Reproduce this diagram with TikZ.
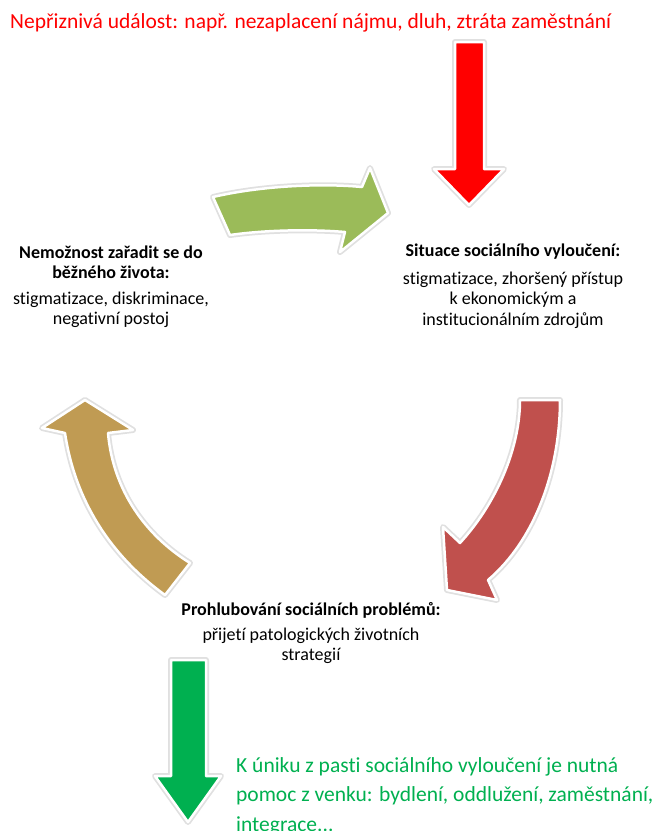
\documentclass[tikz,border=0pt]{standalone}
\usepackage{fontspec}
\setmainfont{Carlito}[Ligatures=NoCommon]
\usepackage{xcolor}
\definecolor{ColRed}{RGB}{255,0,0}
\definecolor{ColOlive}{RGB}{155,187,89}
\definecolor{ColBrick}{RGB}{192,80,77}
\definecolor{ColTan}{RGB}{192,155,83}
\definecolor{ColGreen}{RGB}{0,176,80}
\usepackage{tikz}
\usetikzlibrary{positioning}
\tikzstyle{Arrow}=[draw=white,line width=2.5pt,line join=round,
preaction={draw=black!12,line width=6pt,line join=round}]
\tikzstyle{NodeHead}=[align=center,inner sep=0pt,
font=\fontsize{18}{20}\selectfont\bfseries]
\tikzstyle{NodeBody}=[align=center,inner sep=0pt,
font=\fontsize{18}{20.5}\selectfont]
\tikzstyle{NodeNote}=[align=left,inner sep=0pt,anchor=west,
font=\fontsize{21.5}{29.5}\selectfont]

\begin{document}
\begin{tikzpicture}[x=1pt,y=-1pt]
        \useasboundingbox(0,0)rectangle(656,831);
        % arrows
        \draw[Arrow,fill=ColRed](455,42)--(484,42)--(484,169)--(504,169)
            --(469,205)--(434,169)--(455,169)--cycle;
        \draw[Arrow,fill=ColOlive](213,197)
            ..controls(260,186)and(320,183)..(362,187)--(370,168)
            --(388,213)--(340,252)--(345,232)
            ..controls(310,229)and(265,230)..(230,235)--cycle;
        \draw[Arrow,fill=ColBrick](520,400)--(560,400)
            ..controls(560,470)and(535,540)..(488,580)--(497,600)
            --(447,590)--(443,527)--(460,543)
            ..controls(495,505)and(520,450)..(520,400)--cycle;
        \draw[Arrow,fill=ColTan](85,400)--(133,430)--(108,433)
            ..controls(113,490)and(145,535)..(190,563)--(165,595)
            ..controls(110,555)and(75,500)..(65,433)--(42,428)--cycle;
        \draw[Arrow,fill=ColGreen](171,660)--(206,660)--(206,776)--(221,776)
            --(188,822)--(155,776)--(171,776)--cycle;
        % texts
        \node[NodeNote,text=ColRed](0)at(10,23)
            {Nepřiznivá událost: např. nezaplacení nájmu, dluh, ztráta zaměstnání};
        \node[NodeHead](1)at(111,262){Nemožnost zařadit se do\\běžného života:};
        \node[NodeBody](2)at(111,310){stigmatizace, diskriminace,\\negativní postoj};
        \node[NodeHead](3)at(513,252){Situace sociálního vyloučení:};
        \node[NodeBody](4)at(513,300)
            {stigmatizace, zhoršený přístup\\k ekonomickým a\\institucionálním zdrojům};
        \node[NodeHead](5)at(311,610){Prohlubování sociálních problémů:};
        \node[NodeBody](6)at(311,646){přijetí patologických životních\\strategií};
        \node[NodeNote,text=ColGreen](7)at(236,796)
            {K úniku z pasti sociálního vyloučení je nutná\\
             pomoc z venku: bydlení, oddlužení, zaměstnání,\\integrace...};
    \end{tikzpicture}
\end{document}
